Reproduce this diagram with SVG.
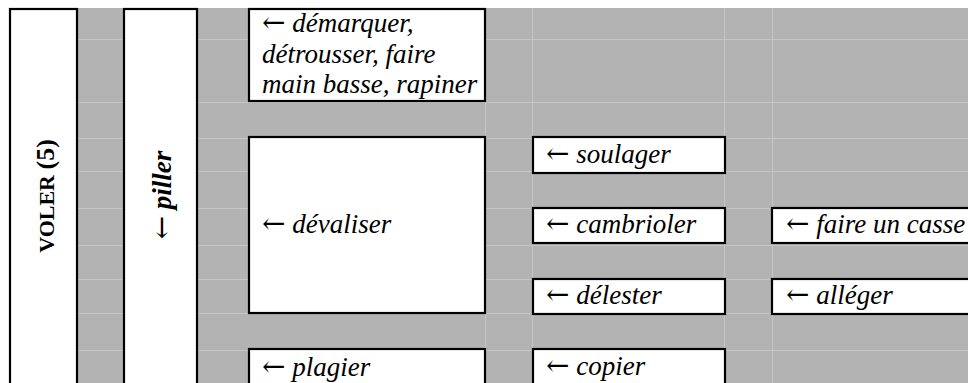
<svg xmlns="http://www.w3.org/2000/svg" width="968" height="383" viewBox="0 0 968 383">
<style>
.bg{fill:#b3b3b3}
.grid{stroke:#c6c6c6;stroke-width:1;fill:none}
.box{fill:#ffffff;stroke:#000000;stroke-width:2.2}
.t{font-family:"Liberation Serif","Times New Roman",serif;font-size:27px;font-style:italic;fill:#000000}
.a{font-family:"DejaVu Serif","DejaVu Sans",serif;font-style:normal;font-weight:normal;font-size:28px}
.v{font-family:"Liberation Serif","Times New Roman",serif;font-weight:bold;fill:#000000}
</style>
<rect x="0" y="0" width="968" height="383" fill="#ffffff"/>
<rect class="bg" x="77" y="8" width="891" height="375"/>
<g id="grid" class="grid">
<path d="M77 39.5H968M77 102.5H968M77 138.5H968M77 171.5H968M77 208.5H968M77 245.5H968M77 279.5H968M77 313.5H968M77 350.5H968"/>
<path d="M485.5 8V383M532.5 8V383M724.5 8V383M772.5 8V383"/>
</g>
<g id="voler">
<rect class="box" x="10" y="9" width="67" height="380"/>
<text class="v" transform="translate(54,196) rotate(-90)" text-anchor="middle"><tspan font-size="22">VOLER </tspan><tspan font-size="26">(5)</tspan></text>
</g>
<g id="piller">
<rect class="box" x="124" y="9" width="73" height="380"/>
<text class="t" font-weight="bold" transform="translate(171,195) rotate(-90)" text-anchor="middle"><tspan class="a">←</tspan> piller</text>
</g>
<g id="demarquer">
<rect class="box" x="249" y="9" width="236" height="92"/>
<text class="t" x="262" y="32"><tspan class="a">←</tspan> démarquer,</text>
<text class="t" x="262" y="63">détrousser, faire</text>
<text class="t" x="262" y="93">main basse, rapiner</text>
</g>
<g id="devaliser">
<rect class="box" x="249" y="137" width="236" height="176"/>
<text class="t" x="262" y="233"><tspan class="a">←</tspan> dévaliser</text>
</g>
<g id="plagier">
<rect class="box" x="249" y="349" width="236" height="40"/>
<text class="t" x="262" y="376"><tspan class="a">←</tspan> plagier</text>
</g>
<g id="soulager">
<rect class="box" x="533" y="137" width="192" height="36"/>
<text class="t" x="546" y="163"><tspan class="a">←</tspan> soulager</text>
</g>
<g id="cambrioler">
<rect class="box" x="533" y="208" width="192" height="35"/>
<text class="t" x="546" y="233"><tspan class="a">←</tspan> cambrioler</text>
</g>
<g id="delester">
<rect class="box" x="533" y="279" width="192" height="35"/>
<text class="t" x="546" y="304"><tspan class="a">←</tspan> délester</text>
</g>
<g id="copier">
<rect class="box" x="533" y="349" width="192" height="40"/>
<text class="t" x="546" y="375"><tspan class="a">←</tspan> copier</text>
</g>
<g id="faire-un-casse">
<rect class="box" x="772" y="208" width="210" height="35"/>
<text class="t" x="786" y="233"><tspan class="a">←</tspan> faire un casse</text>
</g>
<g id="alleger">
<rect class="box" x="772" y="279" width="210" height="35"/>
<text class="t" x="786" y="304"><tspan class="a">←</tspan> alléger</text>
</g>
<g id="connectors"></g>
</svg>
